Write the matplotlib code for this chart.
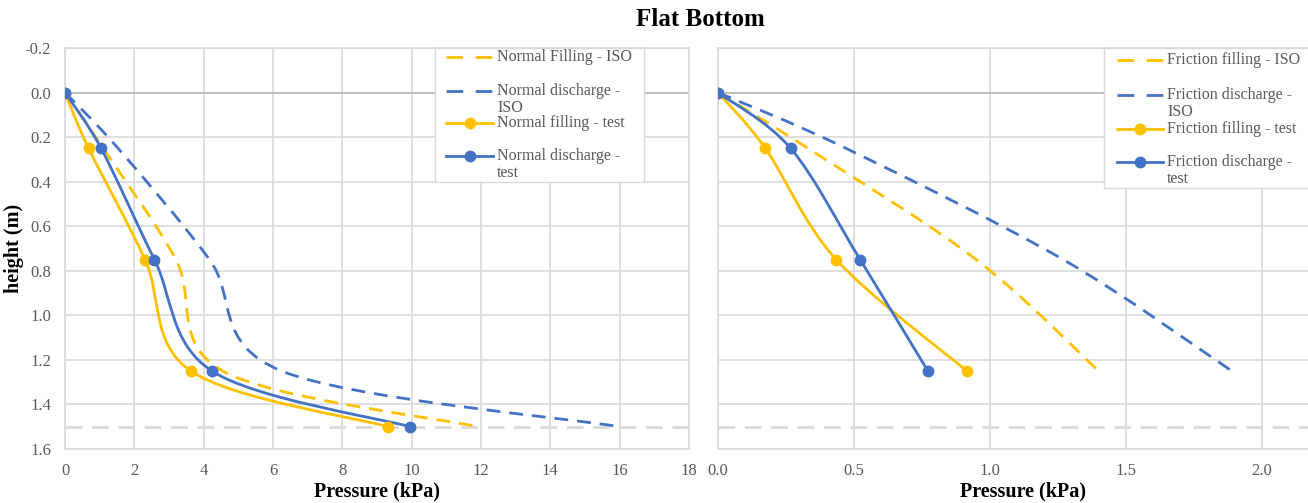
import numpy as np
import matplotlib.pyplot as plt
import matplotlib.ticker as ticker
from matplotlib.path import Path
from matplotlib.patches import PathPatch, Rectangle
from matplotlib.lines import Line2D

plt.rcParams['font.family'] = ['Liberation Serif', 'DejaVu Serif']

# measuring heights (m)
height = [0.0, 0.25, 0.75, 1.25, 1.5]
height_fr = [0.0, 0.25, 0.75, 1.25]
bottom = 1.5

# normal pressure (kPa)
normal_fill_iso = [0.0, 1.10, 3.20, 4.55, 11.9]
normal_dis_iso = [0.0, 1.53, 4.17, 6.25, 16.0]
normal_fill_test = [0.0, 0.68, 2.31, 3.63, 9.32]
normal_dis_test = [0.0, 1.04, 2.58, 4.24, 9.95]

# friction pressure (kPa)
fric_fill_iso = [0.0, 0.33, 0.95, 1.40]
fric_dis_iso = [0.0, 0.47, 1.27, 1.89]
fric_fill_test = [0.0, 0.174, 0.435, 0.915]
fric_dis_test = [0.0, 0.267, 0.523, 0.772]

yticks = [-0.2, 0.0, 0.2, 0.4, 0.6, 0.8, 1.0, 1.2, 1.4, 1.6]
xticks_normal = [0, 2, 4, 6, 8, 10, 12, 14, 16, 18]
xticks_fric = [0.0, 0.5, 1.0, 1.5, 2.0]

YELLOW = '#FFC000'
BLUE = '#4472C4'
GRID = '#D9D9D9'
TXT = '#595959'


def smooth_path(x, y):
    # bezier through the points, like a spreadsheet "smoothed line"
    p = np.column_stack([x, y]).astype(float)
    n = len(p)
    verts = [p[0]]
    codes = [Path.MOVETO]
    for i in range(n - 1):
        p0 = p[max(i - 1, 0)]
        p3 = p[min(i + 2, n - 1)]
        verts += [p[i] + (p[i + 1] - p0) / 6, p[i + 1] - (p3 - p[i]) / 6, p[i + 1]]
        codes += [Path.CURVE4] * 3
    return Path(verts, codes)


def curve(ax, x, y, color, dashed=False):
    ls = (0, (5, 3.2)) if dashed else '-'
    ax.add_patch(PathPatch(smooth_path(x, y), facecolor='none', edgecolor=color,
                           lw=2.0, linestyle=ls, capstyle='butt', zorder=3))
    if not dashed:
        ax.plot(x, y, 'o', color=color, ms=7.5, zorder=4)


def legend(ax, box, hx, entries, ys):
    ax.add_patch(Rectangle((box[0], box[1]), box[2], box[3], transform=ax.transAxes,
                           facecolor='white', edgecolor=GRID, lw=1, zorder=5, clip_on=False))
    for (label, color, dashed), y in zip(entries, ys):
        ls = (0, (6, 4.5)) if dashed else '-'
        ax.add_line(Line2D([hx[0], hx[1]], [y, y], transform=ax.transAxes, color=color,
                           lw=2.0, linestyle=ls, zorder=6, clip_on=False))
        if not dashed:
            ax.add_line(Line2D([(hx[0] + hx[1]) / 2], [y], transform=ax.transAxes, marker='o',
                               color=color, ms=7.5, zorder=6, clip_on=False))
        for k, line in enumerate(label.split('\n')):
            ax.text(hx[2], y - k * 0.043, line, transform=ax.transAxes, fontsize=11.5,
                    color=TXT, va='center', ha='left', zorder=7)


def style(ax, xlim, xticks, fmt):
    ax.set_xlim(*xlim)
    ax.set_ylim(1.6, -0.2)
    ax.set_xticks(xticks)
    ax.set_yticks(yticks)
    ax.xaxis.set_major_formatter(ticker.FormatStrFormatter(fmt))
    ax.yaxis.set_major_formatter(ticker.FormatStrFormatter('%.1f'))
    ax.grid(color=GRID, lw=1.2)
    ax.set_axisbelow(True)
    for s in ax.spines.values():
        s.set_color(GRID)
        s.set_linewidth(1.2)
    ax.tick_params(length=0, labelsize=12, labelcolor=TXT, pad=10)
    ax.axhline(0, color='#BFBFBF', lw=1.4, zorder=1)
    ax.axhline(bottom, color=GRID, lw=2.0, dashes=(6, 3.5), zorder=2)


fig = plt.figure(figsize=(13.08, 5.03), dpi=100)
ax1 = fig.add_axes([65 / 1308, 1 - 449 / 503, 624 / 1308, 401 / 503])
ax2 = fig.add_axes([718 / 1308, 1 - 449 / 503, 590 / 1308, 401 / 503])

style(ax1, (0, 18), xticks_normal, '%d')
style(ax2, (0, 2.17), xticks_fric, '%.1f')
ax2.spines['right'].set_visible(False)
ax2.tick_params(labelleft=False)

curve(ax1, normal_fill_iso, height, YELLOW, dashed=True)
curve(ax1, normal_dis_iso, height, BLUE, dashed=True)
curve(ax1, normal_fill_test, height, YELLOW)
curve(ax1, normal_dis_test, height, BLUE)

curve(ax2, fric_fill_iso, height_fr, YELLOW, dashed=True)
curve(ax2, fric_dis_iso, height_fr, BLUE, dashed=True)
curve(ax2, fric_fill_test, height_fr, YELLOW)
curve(ax2, fric_dis_test, height_fr, BLUE)

legend(ax1, (0.5925, 0.666, 0.3355, 0.334), (0.6106, 0.686, 0.6923),
       [('Normal Filling - ISO', YELLOW, True),
        ('Normal discharge -\nISO', BLUE, True),
        ('Normal filling - test', YELLOW, False),
        ('Normal discharge -\ntest', BLUE, False)],
       [0.977, 0.893, 0.812, 0.731])
legend(ax2, (0.654, 0.651, 0.36, 0.349), (0.676, 0.754, 0.761),
       [('Friction filling - ISO', YELLOW, True),
        ('Friction discharge -\nISO', BLUE, True),
        ('Friction filling - test', YELLOW, False),
        ('Friction discharge -\ntest', BLUE, False)],
       [0.970, 0.883, 0.797, 0.716])

for ax, xc in ((ax1, 0.5), (ax2, 0.517)):
    ax.set_xlabel('Pressure (kPa)', fontsize=14.5, fontweight='bold')
    ax.xaxis.set_label_coords(xc, -0.107)
    ax.xaxis.label.set_va('center')

ax1.set_ylabel('height (m)', fontsize=14.5, fontweight='bold')
ax1.yaxis.set_label_coords((14 - 65) / 624, 0.5)
ax1.yaxis.label.set_va('center')

fig.text(700 / 1308, 1 - 20 / 503, 'Flat Bottom', ha='center', va='center',
         fontsize=18, fontweight='bold')

fig.savefig('out.png', dpi=100)
